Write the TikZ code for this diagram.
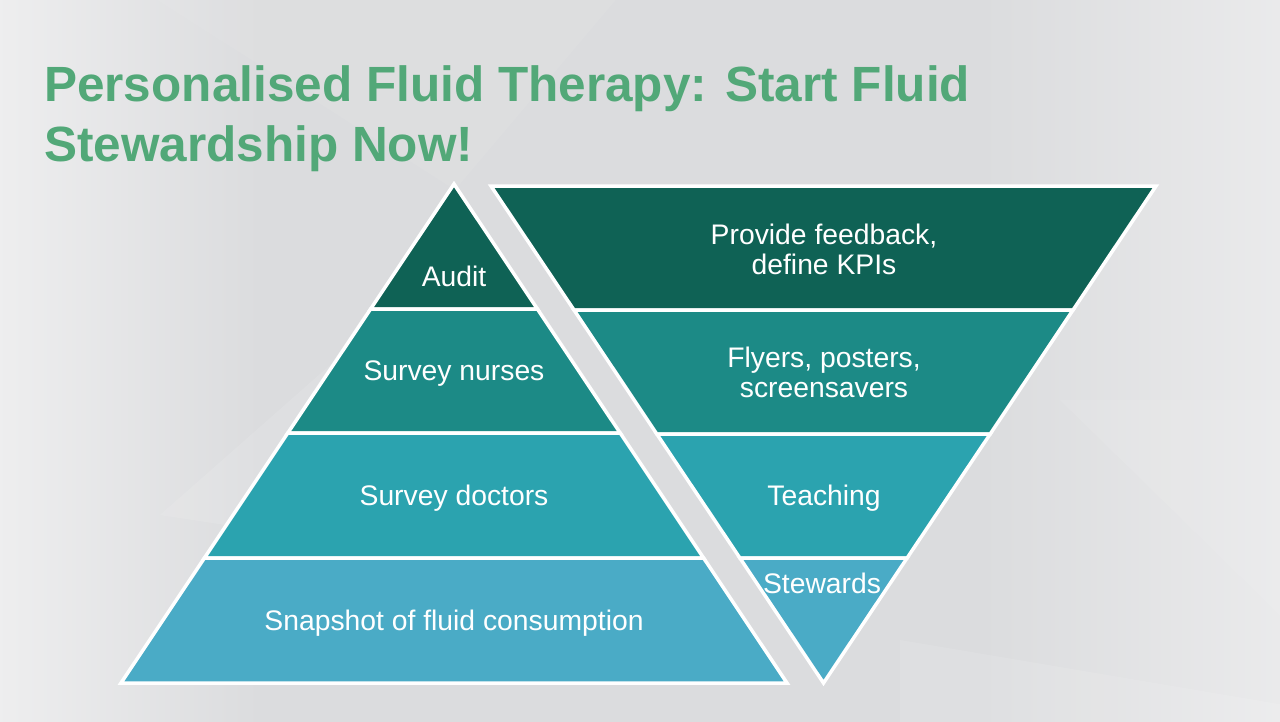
\documentclass[tikz,border=0pt]{standalone}
\usepackage{fontspec}
\setmainfont{Liberation Sans}
\definecolor{bgmid}{HTML}{DBDCDE}
\definecolor{bglight}{HTML}{EEEEEF}
\definecolor{titlegreen}{HTML}{52A878}
\definecolor{tierA}{HTML}{0F6255}
\definecolor{tierB}{HTML}{1C8A86}
\definecolor{tierC}{HTML}{2BA3AF}
\definecolor{tierD}{HTML}{4AABC6}
\begin{document}
\begin{tikzpicture}[x=1pt,y=-1pt,
    tier/.style={draw=white,line width=3.5pt,line join=miter},
    tierlabel/.style={text=white,align=center,font=\fontsize{28.3}{30}\selectfont},
    headline/.style={text=titlegreen,anchor=base west,align=left,inner sep=0pt,font=\fontsize{49.5}{60}\selectfont\bfseries}]
    \useasboundingbox (0,0) rectangle (1280,721);
    % backdrop
    \fill[bgmid] (-5,-5) rectangle (1285,726);
    \shade[left color=bglight,right color=bgmid] (-5,-5) rectangle (260,726);
    \shade[left color=bgmid,right color=bglight!80!bgmid] (980,-5) rectangle (1285,726);
    \fill[white,opacity=0.10] (160,515) -- (455,255) -- (455,560) -- cycle;
    \fill[white,opacity=0.06] (150,-5) -- (620,-5) -- (455,190) -- cycle;
    \fill[white,opacity=0.08] (1060,400) -- (1285,400) -- (1285,620) -- cycle;
    \fill[white,opacity=0.10] (900,640) -- (1285,705) -- (1285,726) -- (900,726) -- cycle;
    % title (base = last line)
    \node[headline] (title) at (44,161) {Personalised Fluid Therapy: Start Fluid\\Stewardship Now!};
    % left pyramid, apex up
    \fill[tierA,tier] (454,184) -- (537.4,309) -- (370.6,309) -- cycle;
    \fill[tierB,tier] (370.6,309) -- (537.4,309) -- (620.2,433) -- (287.8,433) -- cycle;
    \fill[tierC,tier] (287.8,433) -- (620.2,433) -- (703.6,558) -- (204.4,558) -- cycle;
    \fill[tierD,tier] (204.4,558) -- (703.6,558) -- (787,683) -- (121,683) -- cycle;
    \node[tierlabel] (audit) at (454,276) {Audit};
    \node[tierlabel] (nurses) at (454,374) {Survey nurses};
    \node[tierlabel] (doctors) at (454,498) {Survey doctors};
    \node[tierlabel] (snapshot) at (454,623) {Snapshot of fluid consumption};
    % right funnel, apex down
    \fill[tierA,tier] (491,186) -- (1156,186) -- (1073,310) -- (574,310) -- cycle;
    \fill[tierB,tier] (574,310) -- (1073,310) -- (990.2,434) -- (656.8,434) -- cycle;
    \fill[tierC,tier] (656.8,434) -- (990.2,434) -- (907.1,558) -- (739.9,558) -- cycle;
    \fill[tierD,tier] (739.9,558) -- (907.1,558) -- (823.5,683) -- cycle;
    \node[tierlabel] (feedback) at (824,249) {Provide feedback,\\define KPIs};
    \node[tierlabel] (flyers) at (824,372) {Flyers, posters,\\screensavers};
    \node[tierlabel] (teaching) at (824,498) {Teaching};
    \node[tierlabel] (stewards) at (822,583) {Stewards};
\end{tikzpicture}
\end{document}
